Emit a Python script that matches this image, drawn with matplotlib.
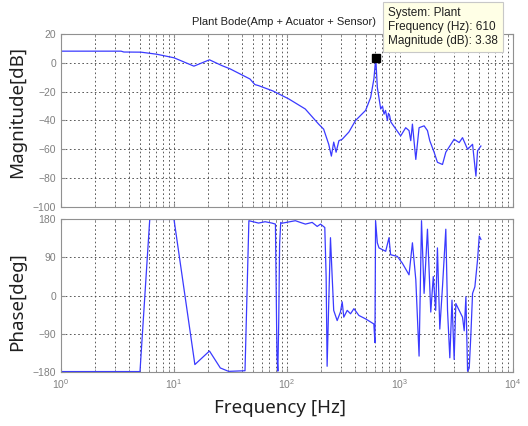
import matplotlib
matplotlib.use("Agg")
import matplotlib.pyplot as plt
import numpy as np
from matplotlib.ticker import LogLocator, FixedLocator, NullFormatter

# ---------------- data ----------------
mag_freq = [1, 3.4, 3.6, 5.1, 7.0, 10, 15, 20.6, 26.5, 31.4, 47, 52, 56, 75, 103.5, 145,
            191, 211, 234, 247, 259, 272, 288, 308, 353, 404, 496, 550, 588, 610, 630,
            675, 700, 722, 745, 773, 790, 810, 830, 855, 1014, 1123, 1202, 1245, 1288, 1380, 1475, 1634,
            1750, 1834, 2004, 2144, 2377, 2543, 3014, 3340, 3575, 3963, 4387, 4698,
            4857, 5200]
mag_db = [8.1, 8.1, 7.5, 7.4, 6.0, 3.5, -2.3, 2.1, -1.9, -4.2, -11.2, -15.1, -15.8, -19.5,
          -25, -32, -42.6, -46, -56.5, -64.7, -55, -62, -54, -53, -48, -40, -33, -24,
          -11, 3.38, -17, -32, -30, -35.6, -33, -40, -35, -36.7, -41, -42.5, -50.7, -45, -47, -54, -42.5,
          -67, -45, -43.7, -47, -54, -62, -69, -70.5, -62, -53, -55.3, -51.9, -60,
          -56.5, -78.6, -61, -57.7]

ph_freq = [1, 5.0, 6.1, 10, 15.3, 20.6, 25.7, 30.4, 42.5, 46, 56, 64, 73.6, 79, 80.5, 81.5,
           83, 84.5, 86, 88, 90, 118.6, 131, 145.5, 167, 185, 198, 216, 222, 226.5, 234,
           242.5, 251, 259, 278, 297, 308, 318, 341, 365, 391, 433, 496, 587, 600, 608,
           630, 652, 747, 799, 826, 947, 1049, 1202, 1288, 1380, 1475, 1550, 1634, 1750,
           1872, 1970, 2070, 2144, 2250, 2377, 2543, 2634, 2760, 2885, 3014, 3120, 3340,
           3575, 3700, 3830, 3963, 4100, 4240, 4387, 4600, 4857, 5027, 5200]
ph_deg = [-179, -179, 179, 179, -162.5, -130.6, -170.5, -178.5, -177, 176, 170.4, 173.6,
          170.4, 168, -20, -140, -178, -60, 120, 172, 170, 176, 172, 168, 172, 162.5, 168,
          160, 44.6, -166.5, -19, 136, 44.6, -35, -59, -39, -15, -51, -35, -43, -31, -47,
          -55, -67, -111, 176, 124, 112, 104, 136, 96, 92, 76, 48.6, 124, 37, -142.6,
          176, 5, 156, -39, 44.6, -35, 112, -79, 20.7, 156, -35, -146.6, -11, -150.5,
          -19, -35, -51, -83, -3, -178.4, -170.5, -91, 5, 20.7, 84, 140, 132]

tip_freq = 610
tip_mag = 3.38

mag_yticks = [-100, -80, -60, -40, -20, 0, 20]
ph_yticks = [-180, -90, 0, 90, 180]

# ---------------- figure ----------------
W, H = 528, 426
fig = plt.figure(figsize=(W / 100, H / 100), dpi=100)

def box(x0, y0, x1, y1):
    return [x0 / W, 1 - y1 / H, (x1 - x0) / W, (y1 - y0) / H]

ax1 = fig.add_axes(box(61, 34, 513, 207))
ax2 = fig.add_axes(box(61, 219, 513, 372))

line_col = '#3a3aff'
grid_kw = dict(color='#404040', linestyle=(0, (2, 3)), linewidth=0.6)

for ax in (ax1, ax2):
    ax.set_xscale('log')
    ax.set_xlim(1, 1e4)
    ax.xaxis.set_minor_locator(LogLocator(base=10, subs=np.arange(2, 10), numticks=20))
    ax.xaxis.set_minor_formatter(NullFormatter())
    ax.grid(True, which='major', axis='both', **grid_kw)
    ax.grid(True, which='minor', axis='x', **grid_kw)
    for s in ax.spines.values():
        s.set_color('#909090')
        s.set_linewidth(0.8)
    ax.tick_params(which='both', direction='in', top=True, right=True,
                   colors='#909090', labelcolor='#808080', labelsize=7.5)
    ax.tick_params(which='major', length=3)
    ax.tick_params(which='minor', length=2)
    ax.tick_params(axis='x', pad=4)

ax1.plot(mag_freq, mag_db, color=line_col, lw=0.9)
ax1.set_ylim(-100, 20)
ax1.yaxis.set_major_locator(FixedLocator(mag_yticks))
ax1.tick_params(labelbottom=False)
ax1.plot([tip_freq], [tip_mag], marker='s', color='black', markersize=6, zorder=5)

ax2.plot(ph_freq, ph_deg, color=line_col, lw=0.9)
ax2.set_ylim(-180, 180)
ax2.yaxis.set_major_locator(FixedLocator(ph_yticks))

for ax in (ax1, ax2):
    for lab in ax.get_yticklabels() + ax.get_xticklabels():
        lab.set_fontfamily('Liberation Sans')
        lab.set_color('#808080')

# title
fig.text(284 / W, 1 - 22 / H, 'Plant Bode(Amp + Acuator + Sensor)', ha='center', va='center',
         fontsize=8, family='Liberation Sans', color='#202020')

# data tip
fig.text(388 / W, 1 - 27 / H,
         'System: Plant\nFrequency (Hz): %d\nMagnitude (dB): %.2f' % (tip_freq, tip_mag),
         ha='left', va='center', fontsize=8.5, family='Liberation Sans', color='#202020',
         linespacing=1.2,
         bbox=dict(boxstyle='square,pad=0.4', facecolor='#ffffe6', edgecolor='#c8c8c8', lw=0.8))

# axis labels
fig.text(17 / W, 1 - 112 / H, 'Magnitude[dB]', rotation=90, ha='center', va='center',
         fontsize=13.5, family='Noto Sans', color='#202020')
fig.text(17 / W, 1 - 302 / H, 'Phase[deg]', rotation=90, ha='center', va='center',
         fontsize=13.5, family='Noto Sans', color='#202020')
fig.text(280 / W, 1 - 408 / H, 'Frequency [Hz]', ha='center', va='center',
         fontsize=13.5, family='Noto Sans', color='#202020')

fig.savefig('out.png', dpi=100, facecolor='white')
